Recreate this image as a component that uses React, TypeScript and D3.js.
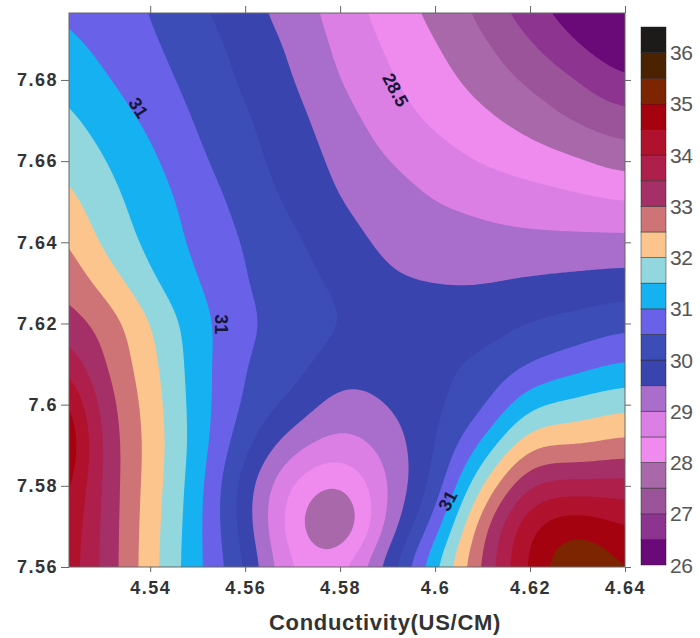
import React, { useEffect, useRef } from "react";
import * as d3 from "d3";

// axis ticks
const condTicks = [4.54, 4.56, 4.58, 4.6, 4.62, 4.64];
const phTicks = [7.56, 7.58, 7.6, 7.62, 7.64, 7.66, 7.68];
const barTicks = [26, 27, 28, 29, 30, 31, 32, 33, 34, 35, 36];

// grid: columns = conductivity, rows = pH (top row first)
const gridCond = [4.52, 4.53, 4.54, 4.55, 4.56, 4.57, 4.58, 4.59, 4.6, 4.61, 4.62, 4.63, 4.64];
const gridPh = [7.7, 7.69, 7.68, 7.67, 7.66, 7.65, 7.64, 7.63, 7.62, 7.61, 7.6, 7.59, 7.58, 7.57, 7.56];
const tempGrid = [
  [30.93, 30.67, 30.47, 30.05, 29.66, 29.21, 28.76, 28.24, 27.81, 27.3, 26.6, 26.15, 25.8],
  [31.14, 30.85, 30.56, 30.2, 29.81, 29.39, 28.86, 28.42, 28.0, 27.55, 27.0, 26.45, 26.05],
  [31.42, 31.06, 30.7, 30.32, 29.92, 29.52, 29.0, 28.57, 28.19, 27.81, 27.4, 27.0, 26.55],
  [31.69, 31.3, 30.9, 30.45, 30.06, 29.67, 29.21, 28.77, 28.41, 28.12, 27.81, 27.45, 27.2],
  [31.96, 31.53, 31.1, 30.6, 30.17, 29.77, 29.38, 29.01, 28.73, 28.46, 28.26, 28.06, 27.79],
  [32.27, 31.71, 31.26, 30.78, 30.32, 29.9, 29.51, 29.26, 29.0, 28.88, 28.75, 28.63, 28.52],
  [32.66, 31.92, 31.37, 30.88, 30.46, 30.1, 29.7, 29.4, 29.27, 29.15, 29.12, 29.13, 29.14],
  [32.97, 32.34, 31.6, 31.02, 30.52, 30.2, 29.9, 29.58, 29.48, 29.49, 29.58, 29.65, 29.72],
  [33.31, 32.84, 32.0, 31.21, 30.6, 30.3, 30.0, 29.85, 29.8, 29.79, 30.02, 30.17, 30.37],
  [34.01, 33.05, 32.16, 31.24, 30.5, 30.2, 29.75, 29.75, 29.9, 30.1, 30.5, 30.8, 31.04],
  [34.94, 33.31, 32.28, 31.26, 30.42, 29.86, 29.3, 29.52, 29.9, 30.4, 31.37, 31.66, 31.87],
  [35.38, 33.44, 32.33, 31.27, 30.14, 29.2, 28.8, 29.2, 30.0, 31.1, 32.38, 32.48, 32.67],
  [34.96, 33.43, 32.28, 31.19, 29.75, 28.45, 27.95, 29.0, 30.2, 32.0, 33.5, 33.7, 33.7],
  [34.68, 33.41, 32.23, 31.14, 29.75, 28.2, 27.45, 29.15, 30.75, 32.8, 34.4, 34.85, 34.5],
  [34.54, 33.4, 32.2, 31.12, 30.0, 28.5, 28.4, 29.75, 31.43, 33.08, 34.62, 35.45, 35.0],
];

// one colour per 0.5 band, from 26 up to 36.5
const bandColors = [
  "#6a0a78", "#8c3490", "#9b5399", "#a968a9", "#ef8bef", "#dc7fe4", "#a96dcc",
  "#3a44ae", "#3c4db7", "#6961e8", "#16b1f1", "#92d7de", "#fcc58e", "#cf7476",
  "#a53067", "#ae1f4b", "#b0122e", "#a4020f", "#7d2400", "#4c2300", "#1d1b1a",
];

const contourLabels = [
  { text: "31", cond: 4.5375, ph: 7.6731, angle: 57 },
  { text: "31", cond: 4.5549, ph: 7.6198, angle: 90 },
  { text: "31", cond: 4.6027, ph: 7.5763, angle: -62 },
  { text: "28.5", cond: 4.5916, ph: 7.6775, angle: 62 },
];

const catmull = (p0, p1, p2, p3, t) =>
  0.5 * (2 * p1 + (-p0 + p2) * t + (2 * p0 - 5 * p1 + 4 * p2 - p3) * t * t + (-p0 + 3 * p1 - 3 * p2 + p3) * t * t * t);

// smooth read of the grid at any (cond, ph)
const sample = (c, p) => {
  const nc = gridCond.length, nr = gridPh.length;
  const u = Math.max(0, Math.min(nc - 1.0001, (c - gridCond[0]) / (gridCond[1] - gridCond[0])));
  const v = Math.max(0, Math.min(nr - 1.0001, (gridPh[0] - p) / (gridPh[0] - gridPh[1])));
  const i = Math.floor(u), j = Math.floor(v);
  const at = (r, k) => tempGrid[Math.max(0, Math.min(nr - 1, r))][Math.max(0, Math.min(nc - 1, k))];
  const rows = [-1, 0, 1, 2].map(dr => catmull(at(j + dr, i - 1), at(j + dr, i), at(j + dr, i + 1), at(j + dr, i + 2), u - i));
  return catmull(rows[0], rows[1], rows[2], rows[3], v - j);
};

const App = () => {
  const ref = useRef(null);

  useEffect(() => {
    const svg = d3.select(ref.current);
    svg.selectAll("*").remove();

    const left = 69, right = 625, top = 13, bottom = 567;
    const x = d3.scaleLinear().domain([4.5229, 4.64]).range([left, right]);
    const y = d3.scaleLinear().domain([7.56, 7.6965]).range([bottom, top]);
    const font = "'Liberation Sans', Arial, sans-serif";

    svg.append("defs").append("clipPath").attr("id", "plotClip")
      .append("rect").attr("x", left).attr("y", top).attr("width", right - left).attr("height", bottom - top);

    // sampled field, lightly blurred so the bands come out smooth
    const step = 2, pad = 16, ox = left - pad, oy = top - pad;
    const nx = Math.ceil((right - left + 2 * pad) / step) + 1;
    const ny = Math.ceil((bottom - top + 2 * pad) / step) + 1;
    const values = new Float64Array(nx * ny);
    for (let j = 0; j < ny; j++) {
      for (let i = 0; i < nx; i++) {
        values[j * nx + i] = sample(x.invert(ox + i * step), y.invert(oy + j * step));
      }
    }
    d3.blur2({ data: values, width: nx, height: ny }, 7);

    const levels = bandColors.map((_, k) => 26 + k * 0.5);
    const contours = d3.contours().size([nx, ny]).thresholds(levels)(Array.from(values));
    const path = d3.geoPath(d3.geoTransform({
      point: function (px, py) {
        this.stream.point(ox + (px - 0.5) * step, oy + (py - 0.5) * step);
      },
    }));

    const plot = svg.append("g").attr("clip-path", "url(#plotClip)");
    plot.append("rect").attr("x", left).attr("y", top).attr("width", right - left).attr("height", bottom - top)
      .attr("fill", bandColors[0]);
    plot.selectAll("path.band").data(contours).enter().append("path")
      .attr("class", "band")
      .attr("d", path)
      .attr("fill", (d, k) => bandColors[k]);

    // contour labels
    svg.selectAll("text.clabel").data(contourLabels).enter().append("text")
      .attr("class", "clabel")
      .attr("transform", d => `translate(${x(d.cond)},${y(d.ph)}) rotate(${d.angle})`)
      .attr("text-anchor", "middle")
      .attr("dominant-baseline", "central")
      .attr("font-family", font).attr("font-weight", "bold").attr("font-size", 18)
      .attr("fill", "#14163a")
      .text(d => d.text);

    // frame
    svg.append("rect").attr("x", left).attr("y", top).attr("width", right - left).attr("height", bottom - top)
      .attr("fill", "none").attr("stroke", "#666").attr("stroke-width", 1);

    const styleAxis = (g) => {
      g.select(".domain").remove();
      g.selectAll("line").attr("stroke", "#666");
      g.selectAll("text").attr("font-family", font).attr("font-weight", "bold")
        .attr("font-size", 18).attr("fill", "#333").attr("letter-spacing", 1.5);
    };

    svg.append("g").attr("transform", `translate(0,${bottom})`)
      .call(d3.axisBottom(x).tickValues(condTicks).tickSize(5).tickPadding(9).tickFormat(d => String(d)))
      .call(styleAxis);
    svg.append("g").attr("transform", `translate(${left},0)`)
      .call(d3.axisLeft(y).tickValues(phTicks).tickSize(8).tickPadding(3).tickFormat(d => String(d)))
      .call(styleAxis);
    svg.append("g").attr("transform", `translate(0,${top})`)
      .call(d3.axisTop(x).tickValues(condTicks).tickSize(7).tickFormat(() => ""))
      .call(styleAxis);
    svg.append("g").attr("transform", `translate(${right},0)`)
      .call(d3.axisRight(y).tickValues(phTicks).tickSize(6).tickFormat(() => ""))
      .call(styleAxis);

    svg.append("text")
      .attr("x", (left + right) / 2 + 38).attr("y", 630)
      .attr("text-anchor", "middle")
      .attr("font-family", font).attr("font-weight", "bold").attr("font-size", 22)
      .attr("letter-spacing", 0.7).attr("fill", "#333")
      .text("Conductivity(US/CM)");

    // colour bar
    const cb = d3.scaleLinear().domain([26, 36.5]).range([565, 27]);
    const bar = svg.append("g");
    bar.selectAll("rect").data(levels).enter().append("rect")
      .attr("x", 641).attr("width", 25)
      .attr("y", d => cb(d + 0.5)).attr("height", d => cb(d) - cb(d + 0.5))
      .attr("fill", (d, k) => bandColors[k])
      .attr("stroke", "rgba(30,30,30,0.55)").attr("stroke-width", 0.8);
    bar.selectAll("text").data(barTicks).enter().append("text")
      .attr("x", 670).attr("y", d => cb(d))
      .attr("dominant-baseline", "central")
      .attr("font-family", font).attr("font-size", 21).attr("fill", "#555")
      .attr("letter-spacing", -0.5)
      .text(d => String(d));
  }, []);

  return <svg ref={ref} width={700} height={638} style={{ position: "absolute", left: 0, top: 0, background: "#fff" }} />;
};

export default App;
